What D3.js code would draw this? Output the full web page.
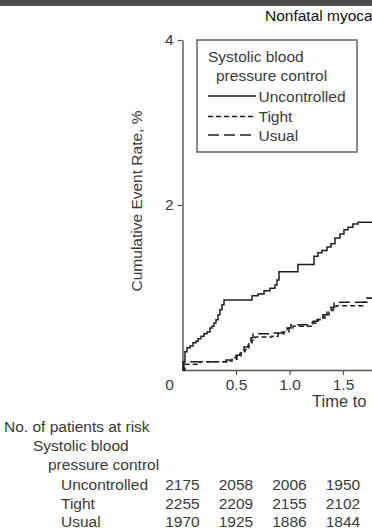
<!DOCTYPE html>
<html>
<head>
<meta charset="utf-8">
<script src="https://cdn.jsdelivr.net/npm/d3@7"></script>
<style>
  html, body { margin: 0; padding: 0; background: #fff; overflow: hidden; }
  svg { display: block; }
  text { font-family: "Liberation Sans", Arial, Helvetica, sans-serif; }
</style>
</head>
<body>
<svg id="chart" width="372" height="530"></svg>
<script>
// ---- Data ----
const chartTitle = "Nonfatal myocardial infarction";
const yAxisTitle = "Cumulative Event Rate, %";
const xAxisTitle = "Time to Event, y";

const seriesNames = ["Uncontrolled", "Tight", "Usual"];

const uncontrolledTime = [0, 0.005, 0.023, 0.042, 0.070, 0.098, 0.126, 0.145, 0.173, 0.201,
  0.229, 0.257, 0.276, 0.294, 0.313, 0.332, 0.350, 0.369, 0.388,
  0.650, 0.706, 0.762, 0.818, 0.864, 0.883, 0.902, 1.079,
  1.229, 1.266, 1.304, 1.350, 1.388, 1.425, 1.472, 1.509, 1.547, 1.593, 1.640, 1.80];
const uncontrolledRate = [0, 0.10, 0.22, 0.27, 0.29, 0.33, 0.35, 0.38, 0.41, 0.44,
  0.46, 0.51, 0.53, 0.57, 0.61, 0.67, 0.73, 0.79, 0.85,
  0.90, 0.92, 0.96, 0.99, 1.03, 1.09, 1.19, 1.28,
  1.38, 1.42, 1.45, 1.49, 1.53, 1.60, 1.65, 1.70, 1.73, 1.77, 1.79, 1.79];

const tightTime = [0, 0.023, 0.164, 0.416, 0.463, 0.509, 0.547, 0.584, 0.621, 0.650, 0.678,
  0.836, 0.893, 0.949, 0.995, 1.033, 1.210, 1.248, 1.285, 1.332, 1.369, 1.407, 1.435,
  1.686, 1.724, 1.80];
const tightRate = [0, 0.07, 0.10, 0.11, 0.13, 0.17, 0.21, 0.25, 0.32, 0.36, 0.40,
  0.41, 0.44, 0.46, 0.51, 0.53, 0.57, 0.61, 0.63, 0.67, 0.72, 0.74, 0.78,
  0.82, 0.87, 0.87];

const usualTime = [0, 0.014, 0.407, 0.453, 0.500, 0.537, 0.575, 0.612, 0.640, 0.659,
  0.855, 0.930, 0.977, 1.014, 1.220, 1.266, 1.313, 1.350, 1.388, 1.416, 1.724, 1.80];
const usualRate = [0, 0.10, 0.12, 0.15, 0.18, 0.23, 0.28, 0.34, 0.39, 0.44,
  0.45, 0.46, 0.51, 0.55, 0.59, 0.63, 0.67, 0.72, 0.76, 0.82, 0.87, 0.87];

const xTicks = [0, 0.5, 1.0, 1.5];
const yTicks = [2, 4];

const riskTimes = [0, 0.5, 1.0, 1.5];
const riskUncontrolled = [2175, 2058, 2006, 1950];
const riskTight = [2255, 2209, 2155, 2102];
const riskUsual = [1970, 1925, 1886, 1844];

// ---- Drawing ----
const svg = d3.select("#chart");
const textColor = "#3a3a3a";
const fs = 15.5;
const tightDash = "5,3";
const usualDash = "11,5";

const x = d3.scaleLinear().domain([0, 2]).range([182.5, 396.5]);
const y = d3.scaleLinear().domain([0, 4]).range([370, 40]);

// top dark band
svg.append("rect").attr("x", 0).attr("y", 0).attr("width", 372).attr("height", 6).attr("fill", "#4d4d4d");

// title
svg.append("text").attr("x", 265).attr("y", 20.5).attr("font-size", 15.5).attr("fill", "#111")
  .text(chartTitle);

// y axis
const yAxis = svg.append("g").attr("transform", `translate(${x(0)},0)`)
  .call(d3.axisLeft(y).tickValues(yTicks).tickSize(5).tickSizeOuter(0).tickPadding(4).tickFormat(d3.format("d")));
// x axis
const xAxis = svg.append("g").attr("transform", `translate(0,${y(0)})`)
  .call(d3.axisBottom(x).tickValues(xTicks).tickSize(5).tickSizeOuter(0).tickPadding(4)
    .tickFormat(d => d === 0 ? "0" : d.toFixed(1)));

[yAxis, xAxis].forEach(g => {
  g.select(".domain").attr("stroke", "#555").attr("stroke-width", 1.4);
  g.selectAll(".tick line").attr("stroke", "#555").attr("stroke-width", 1.2);
  g.selectAll(".tick text").attr("fill", textColor).attr("font-size", fs)
    .attr("font-family", '"Liberation Sans", Arial, sans-serif');
});
xAxis.selectAll(".tick").filter(d => d === 0).select("line").remove();
xAxis.selectAll(".tick").filter(d => d === 0).select("text").attr("dx", -13.5);

// y axis title
svg.append("text").attr("transform", "translate(142,201) rotate(-90)")
  .attr("text-anchor", "middle").attr("font-size", fs).attr("fill", textColor).text(yAxisTitle);
// x axis title
svg.append("text").attr("x", 312).attr("y", 407).attr("font-size", 16.5).attr("fill", textColor).text(xAxisTitle);

// curves
const line = d3.line().x(d => x(d[0])).y(d => y(d[1])).curve(d3.curveStepAfter);
const series = [
  { name: "Uncontrolled", t: uncontrolledTime, v: uncontrolledRate, dash: null },
  { name: "Tight", t: tightTime, v: tightRate, dash: tightDash },
  { name: "Usual", t: usualTime, v: usualRate, dash: usualDash }
];
series.forEach(s => {
  svg.append("path")
    .datum(s.t.map((t, i) => [t, s.v[i]]))
    .attr("d", line)
    .attr("fill", "none")
    .attr("stroke", "#1e1e1e")
    .attr("stroke-width", 1.5)
    .attr("stroke-dasharray", s.dash);
});

// legend
const lg = svg.append("g");
lg.append("rect").attr("x", 197).attr("y", 40).attr("width", 160).attr("height", 112)
  .attr("fill", "#fff").attr("stroke", "#555").attr("stroke-width", 1.4);
lg.append("text").attr("x", 208).attr("y", 62).attr("font-size", fs).attr("fill", textColor).text("Systolic blood");
lg.append("text").attr("x", 216).attr("y", 81).attr("font-size", fs).attr("fill", textColor).text("pressure control");
const legendRows = [
  { name: seriesNames[0], dash: null, ly: 96, ty: 102 },
  { name: seriesNames[1], dash: tightDash, ly: 116.5, ty: 122 },
  { name: seriesNames[2], dash: usualDash, ly: 135, ty: 140.5 }
];
legendRows.forEach(r => {
  lg.append("line").attr("x1", 208).attr("x2", 256).attr("y1", r.ly).attr("y2", r.ly)
    .attr("stroke", "#1e1e1e").attr("stroke-width", 1.5).attr("stroke-dasharray", r.dash);
  lg.append("text").attr("x", 258.5).attr("y", r.ty).attr("font-size", fs).attr("fill", textColor).text(r.name);
});

// risk table
const rt = svg.append("g").attr("font-size", fs).attr("fill", textColor);
rt.append("text").attr("x", 4).attr("y", 432).text("No. of patients at risk");
rt.append("text").attr("x", 33).attr("y", 451).text("Systolic blood");
rt.append("text").attr("x", 48).attr("y", 470).text("pressure control");
const riskRows = [
  { name: seriesNames[0], vals: riskUncontrolled, yb: 490 },
  { name: seriesNames[1], vals: riskTight, yb: 508.5 },
  { name: seriesNames[2], vals: riskUsual, yb: 527 }
];
riskRows.forEach(r => {
  rt.append("text").attr("x", 61).attr("y", r.yb).text(r.name);
  r.vals.forEach((v, i) => {
    rt.append("text").attr("x", x(riskTimes[i])).attr("y", r.yb).attr("text-anchor", "middle").text(v);
  });
});
</script>
</body>
</html>
